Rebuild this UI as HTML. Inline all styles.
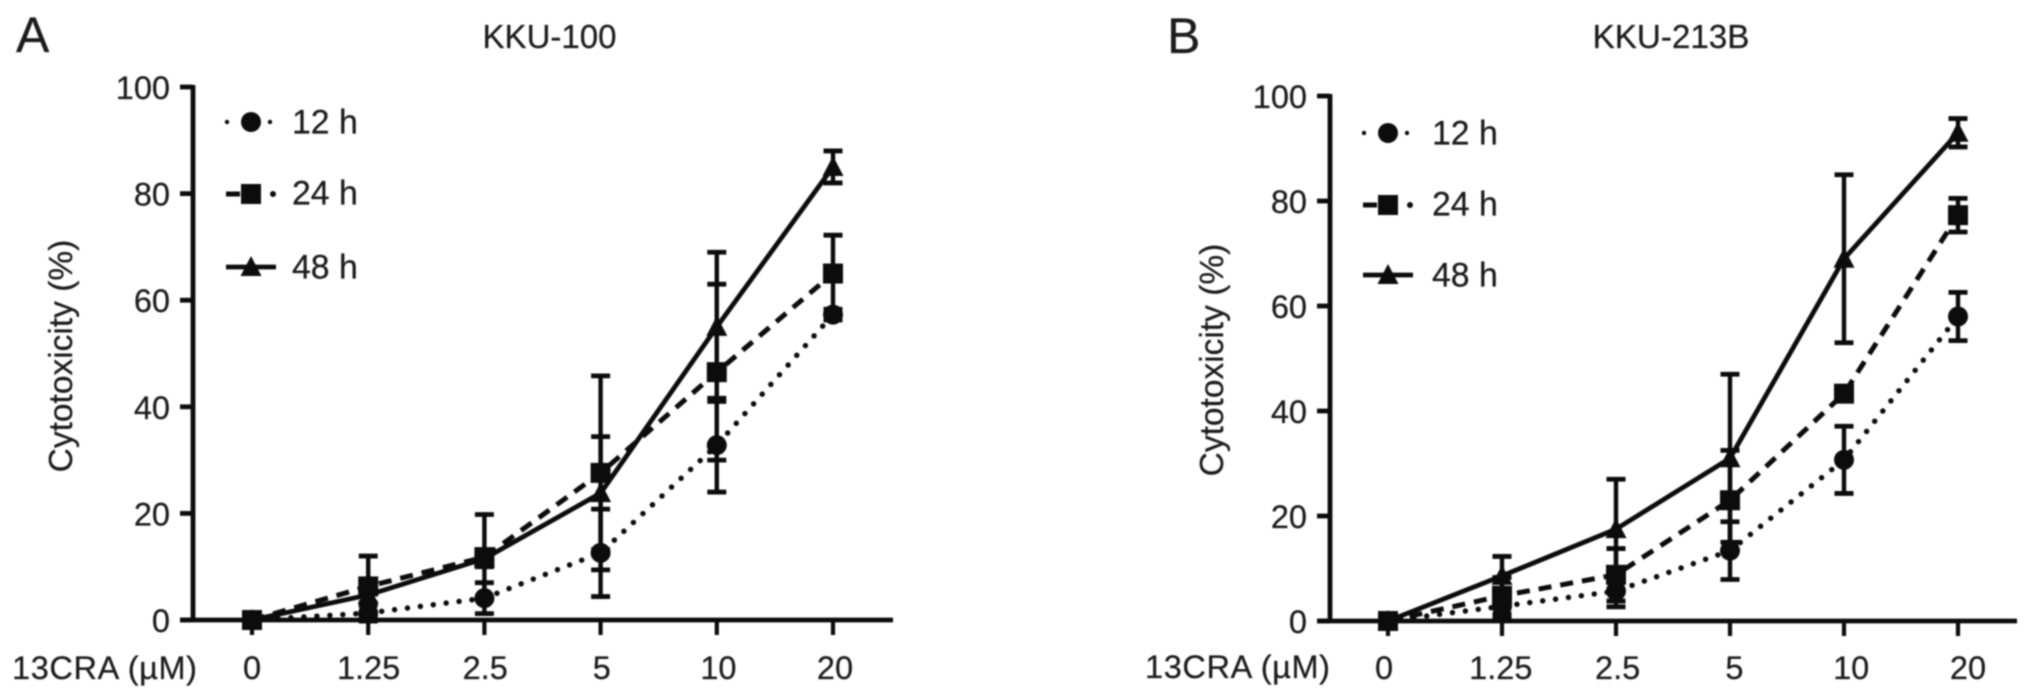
<!DOCTYPE html>
<html lang="en">
<head>
<meta charset="utf-8">
<title>13CRA cytotoxicity in KKU-100 and KKU-213B</title>
<style>
  html, body { margin: 0; padding: 0; background: #fff; }
  body { width: 2032px; height: 698px; overflow: hidden; }
  svg { display: block; filter: blur(0.7px); }
  text { font-family: "Liberation Sans", sans-serif; fill: #1c1c1c; font-size: 32.5px; stroke: #1c1c1c; stroke-width: 0.25px; }
</style>
</head>
<body>
<svg id="figure" xmlns="http://www.w3.org/2000/svg" width="2032" height="698" viewBox="0 0 2032 698">
  <rect width="2032" height="698" fill="#fff"/>
  <text x="16" y="52" style="font-size:50px">A</text>
  <text x="1167" y="53" style="font-size:50px">B</text>
  <text x="549.5" y="48" text-anchor="middle" style="font-size:33px">KKU-100</text>
  <text x="1671" y="48" text-anchor="middle" style="font-size:33.2px">KKU-213B</text>
  <text transform="translate(72,356) rotate(-90)" text-anchor="middle" style="font-size:33.5px">Cytotoxicity (%)</text>
  <text transform="translate(1223,360) rotate(-90)" text-anchor="middle" style="font-size:33.5px">Cytotoxicity (%)</text>
  <text x="12" y="679" textLength="185" lengthAdjust="spacing">13CRA (µM)</text>
  <text x="1145" y="678" textLength="185" lengthAdjust="spacing">13CRA (µM)</text>
</svg>
<script>
var doseLabels = ['0', '1.25', '2.5', '5', '10', '20'];
var yTickValues = [0, 20, 40, 60, 80, 100];
var seriesNames = ['12 h', '24 h', '48 h'];

var panelA12h = [0, 1.3, 4.1, 12.6, 32.8, 57.3];
var panelA24h = [0, 6.3, 11.8, 27.6, 46.5, 65];
var panelA48h = [0, 4.7, 11.5, 23.8, 55, 85];
var panelA12hErr = [0, 1.5, 2.9, 8.2, 8.8, 1];
var panelA24hErr = [0, 5.7, 8, 18.2, 16.5, 7.2];
var panelA48hErr = [0, 1.5, 1.5, 10.6, 14, 3];

var panelB12h = [0, 2.8, 5.7, 13.4, 30.7, 58];
var panelB24h = [0, 4.8, 8.8, 23, 43.3, 77.3];
var panelB48h = [0, 8.6, 17.5, 31, 69, 93];
var panelB12hErr = [0, 2, 3, 5.5, 6.4, 4.6];
var panelB24hErr = [0, 3.5, 5, 9.5, 1, 3.2];
var panelB48hErr = [0, 3.7, 9.5, 16, 16, 2.7];

var SVGNS = 'http://www.w3.org/2000/svg';
var INK = '#0c0c0c';
var figure = document.getElementById('figure');

function make(tag, attrs, parent) {
  var el = document.createElementNS(SVGNS, tag);
  for (var k in attrs) { el.setAttribute(k, attrs[k]); }
  parent.appendChild(el);
  return el;
}

function drawLine(parent, x1, y1, x2, y2, width) {
  return make('line', { x1: x1, y1: y1, x2: x2, y2: y2, stroke: INK, 'stroke-width': width }, parent);
}

function drawMarker(parent, kind, x, y) {
  var el;
  if (kind === 0) {
    el = make('circle', { cx: x, cy: y, r: 10, fill: INK }, parent);
  } else if (kind === 1) {
    el = make('rect', { x: x - 10, y: y - 10, width: 20, height: 20, fill: INK }, parent);
  } else {
    el = make('polygon', { points: (x - 10.5) + ',' + (y + 9) + ' ' + (x + 10.5) + ',' + (y + 9) + ' ' + x + ',' + (y - 11), fill: INK }, parent);
  }
  return el;
}

function seriesStyle(kind) {
  if (kind === 0) { return { width: 5.5, dash: '0 13', cap: 'round' }; }
  if (kind === 1) { return { width: 5, dash: '13 9', cap: 'butt' }; }
  return { width: 4.8, dash: 'none', cap: 'butt' };
}

function drawPanel(p) {
  var xScale = function (i) { return p.x0 + i * p.xStep; };
  var yScale = function (v) { return p.y0 - v * (p.y0 - p.y100) / 100; };
  var labelX = function (i) { return p.labelX0 + i * p.labelStep; };

  var panel = make('g', {}, figure);
  
  

  var yAxis = drawLine(panel, p.axisX, yScale(100) - 2, p.axisX, yScale(0) + 2, 4.8);
  
  

  var xAxis = drawLine(panel, p.axisX - 13, yScale(0), p.xEnd, yScale(0), 4.8);
  
  

  yTickValues.forEach(function (v) {
    var tick = drawLine(panel, p.axisX - 13, yScale(v), p.axisX, yScale(v), 4.8);
    
    
    var label = make('text', { x: p.axisX - 23, y: yScale(v) + 12, 'text-anchor': 'end' }, panel);
    label.textContent = String(v);
    
    
  });

  doseLabels.forEach(function (d, i) {
    var tick = drawLine(panel, xScale(i), yScale(0), xScale(i), yScale(0) + 15, 4.2);
    
    
    var label = make('text', { x: labelX(i), y: 679, 'text-anchor': 'middle' }, panel);
    label.textContent = d;
    
    
  });

  p.series.forEach(function (values, s) {
    var errs = p.errors[s];
    var g = make('g', {}, panel);
    
    

    values.forEach(function (v, i) {
      if (errs[i] <= 0) { return; }
      var x = xScale(i);
      var top = yScale(v + errs[i]);
      var bottom = yScale(v - errs[i]);
      var stem = drawLine(g, x, top, x, bottom, 4.4);
      
      
      var capTop = drawLine(g, x - 9.5, top, x + 9.5, top, 4.8);
      
      
      var capBottom = drawLine(g, x - 9.5, bottom, x + 9.5, bottom, 4.8);
      
      
    });

    var st = seriesStyle(s);
    var pts = values.map(function (v, i) { return xScale(i) + ',' + yScale(v); }).join(' ');
    var line = make('polyline', {
      points: pts, fill: 'none', stroke: INK,
      'stroke-width': st.width, 'stroke-dasharray': st.dash, 'stroke-linecap': st.cap
    }, g);
    
    

    values.forEach(function (v, i) {
      var m = drawMarker(g, s, xScale(i), yScale(v));
      
      
    });
  });

  seriesNames.forEach(function (name, s) {
    var y = p.legendY + s * p.legendGap + (s === 2 ? p.legendLast : 0);
    var entry = make('g', {}, panel);
    
    
    var left = p.legendX;
    if (s === 0) {
      make('circle', { cx: left + 1, cy: y, r: 2.2, fill: INK }, entry);
      make('circle', { cx: left + 44, cy: y, r: 2.2, fill: INK }, entry);
    } else if (s === 1) {
      drawLine(entry, left, y + 1, left + 14, y + 1, 5);
      make('circle', { cx: left + 47, cy: y + 1, r: 3, fill: INK }, entry);
    } else {
      drawLine(entry, left, y, left + 50, y, 4.8);
    }
    drawMarker(entry, s, left + 25, y + (s === 1 ? 1 : 0));
    var label = make('text', { x: left + p.legendTextGap, y: y + 11.5 }, entry);
    label.textContent = name;
    label.style.fontSize = '33.8px';
  });
}

drawPanel({
  id: 'panel-a', axisX: 193, xEnd: 893, x0: 252, xStep: 116.2,
  labelX0: 252, labelStep: 116.6, y0: 620, y100: 87,
  legendX: 226, legendY: 122, legendGap: 71, legendLast: 3, legendTextGap: 66,
  series: [panelA12h, panelA24h, panelA48h],
  errors: [panelA12hErr, panelA24hErr, panelA48hErr]
});

drawPanel({
  id: 'panel-b', axisX: 1330, xEnd: 2017, x0: 1388, xStep: 114,
  labelX0: 1384, labelStep: 116.8, y0: 621, y100: 96,
  legendX: 1363, legendY: 133, legendGap: 71, legendLast: 0, legendTextGap: 69,
  series: [panelB12h, panelB24h, panelB48h],
  errors: [panelB12hErr, panelB24hErr, panelB48hErr]
});
</script>
</body>
</html>
